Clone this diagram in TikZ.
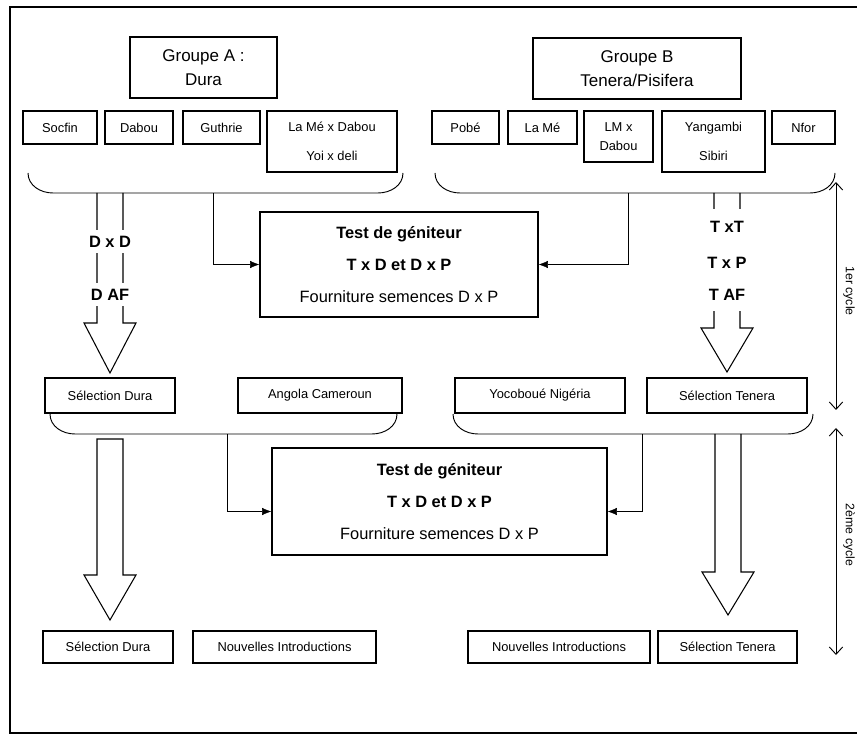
\documentclass[tikz,border=0pt]{standalone}
\usepackage{fontspec}
\setmainfont{Liberation Sans}
\usetikzlibrary{arrows.meta}

% accolade : #1 x gauche, #2 x droite, #3 y du bas
\newcommand{\accolade}[3]{%
	\draw[line width=0.8pt] (#1,#3-20) to[out=-90,in=180] (#1+25,#3) -- (#2-25,#3) to[out=0,in=-90] (#2,#3-20);}
% grosse fleche creuse : #1 x, #2 y haut, #3 y tete, #4 y pointe
\newcommand{\flechecreuse}[4]{%
	\draw[line width=0.9pt] (#1-13,#2) -- (#1-13,#3) -- (#1-26,#3) -- (#1,#4) -- (#1+26,#3) -- (#1+13,#3) -- (#1+13,#2);}

\begin{document}
\begin{tikzpicture}[x=0.03cm, y=-0.03cm, >={Latex[length=2.8mm,width=2.2mm]},
	boite/.style={draw, line width=1pt, inner sep=2pt, align=center},
	petit/.style={boite, minimum height=0.99cm, font=\fontsize{11}{13}\selectfont},
	groupe/.style={boite, minimum height=1.83cm, font=\fontsize{14.5}{17}\selectfont},
	test/.style={boite, font=\fontsize{14}{17}\selectfont},
	etiq/.style={fill=white, inner xsep=1pt, inner ysep=5pt, font=\bfseries\fontsize{14}{17}\selectfont},
	cyclefleche/.style={line width=0.8pt, {Straight Barb[length=2.2mm,width=4mm]}-{Straight Barb[length=2.2mm,width=4mm]}}]
	
	% 1. Cadre
	\useasboundingbox (0,0) rectangle (857,736);
	\draw[line width=1pt] (857,7) -- (10,7) -- (10,733) -- (857,733);
	
	% 2. Groupes A et B
	\node[groupe, minimum width=4.41cm] (grpA) at (203.5,67.5) {Groupe A :\\[3pt]Dura};
	\node[groupe, minimum width=6.24cm] (grpB) at (637,68.5) {Groupe B\\[3pt]Tenera/Pisifera};
	
	% 3. Origines
	\node[petit, minimum width=2.22cm] (socfin) at (60,127.5) {Socfin};
	\node[petit, minimum width=2.04cm] (dabou) at (139,127.5) {Dabou};
	\node[petit, minimum width=2.31cm] (guthrie) at (221.5,127.5) {Guthrie};
	\node[petit, minimum width=3.9cm, minimum height=1.83cm] (lamedabou) at (332,141.5) {La Mé x Dabou\\[12pt]Yoi x deli};
	\node[petit, minimum width=2.01cm] (pobe) at (465.5,127.5) {Pobé};
	\node[petit, minimum width=2.07cm] (lame) at (542.5,127.5) {La Mé};
	\node[petit, minimum width=2.07cm, minimum height=1.53cm] (lmdabou) at (618.5,136.5) {LM x\\[3pt]Dabou};
	\node[petit, minimum width=3.09cm, minimum height=1.83cm] (yangambi) at (713.5,141.5) {Yangambi\\[12pt]Sibiri};
	\node[petit, minimum width=1.89cm] (nfor) at (803.5,127.5) {Nfor};
	
	% 4. Premier cycle
	\accolade{28}{403}{193}
	\accolade{435}{835}{193}
	\node[test, minimum width=8.34cm, minimum height=3.15cm] (test1) at (399,264.5)
	{\bfseries Test de géniteur\\[10pt]\bfseries T x D et D x P\\[10pt]Fourniture semences D x P};
	\coordinate (a1) at (213,193);
	\coordinate (a2) at (628,193);
	\draw[->] (a1) |- (test1.west);
	\draw[->] (a2) |- (test1.east);
	
	\flechecreuse{110}{193}{323}{373}
	\node[etiq] (dxd) at (110,242) {D x D};
	\node[etiq] (daf) at (110,295) {D AF};
	\flechecreuse{727}{193}{328}{372}
	\node[etiq, minimum height=1.1cm] (txt) at (727,227) {T xT};
	\node[etiq, minimum height=1.1cm] (txp) at (727,263) {T x P};
	\node[etiq, minimum height=0.95cm] (taf) at (727,295) {T AF};
	
	\node[petit, minimum width=3.9cm, minimum height=1.05cm] (seldura1) at (110,395.5) {Sélection Dura};
	\node[petit, minimum width=4.92cm, minimum height=1.05cm] (angola) at (320,395.5) {Angola Cameroun};
	\node[petit, minimum width=5.1cm, minimum height=1.05cm] (yocoboue) at (540,395.5) {Yocoboué Nigéria};
	\node[petit, minimum width=4.8cm, minimum height=1.05cm] (seltenera1) at (727,395.5) {Sélection Tenera};
	
	% 5. Deuxieme cycle
	\accolade{50}{397}{434}
	\accolade{453}{813}{434}
	\node[test, minimum width=10.05cm, minimum height=3.21cm] (test2) at (439.5,501.5)
	{\bfseries Test de géniteur\\[10pt]\bfseries T x D et D x P\\[10pt]Fourniture semences D x P};
	\coordinate (a3) at (227,434);
	\coordinate (a4) at (642,434);
	\draw[->] (a3) |- ([yshift=-0.3cm]test2.west);
	\draw[->] (a4) |- ([yshift=-0.3cm]test2.east);
	
	\draw[line width=0.9pt] (97,439) -- (97,575) -- (84,575) -- (110,620) -- (136,575) -- (123,575) -- (123,439) -- cycle;
	\flechecreuse{728}{434}{572}{615}
	
	\node[petit, minimum width=3.9cm, minimum height=0.96cm] (seldura2) at (108,647) {Sélection Dura};
	\node[petit, minimum width=5.49cm, minimum height=0.96cm] (nouvL) at (284.5,647) {Nouvelles Introductions};
	\node[petit, minimum width=5.46cm, minimum height=0.96cm] (nouvR) at (559,647) {Nouvelles Introductions};
	\node[petit, minimum width=4.17cm, minimum height=0.96cm] (seltenera2) at (727.5,647) {Sélection Tenera};
	
	% 6. Fleches des cycles
	\coordinate (c1h) at (836,182);
	\coordinate (c1b) at (836,410);
	\coordinate (c2h) at (836,428);
	\coordinate (c2b) at (836,655);
	\draw[cyclefleche] (c1h) -- (c1b);
	\draw[cyclefleche] (c2h) -- (c2b);
	\node[rotate=-90, font=\fontsize{10.5}{12}\selectfont] (cycle1) at (849,291) {1er cycle};
	\node[rotate=-90, font=\fontsize{10.5}{12}\selectfont] (cycle2) at (849,535) {2ème cycle};
	
\end{tikzpicture}
\end{document}
